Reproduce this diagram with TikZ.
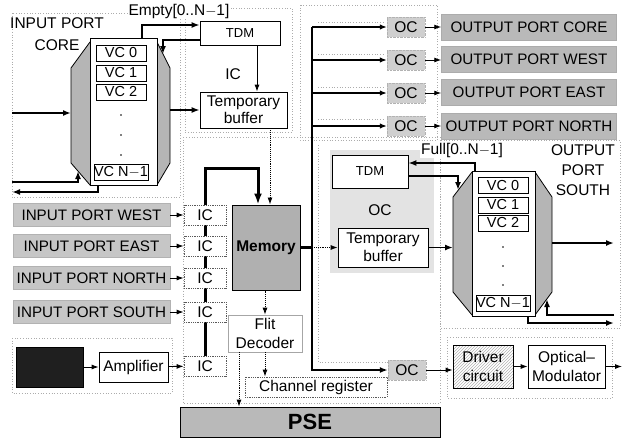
\documentclass[tikz,border=0pt]{standalone}
\usepackage{fontspec}
\setmainfont{Liberation Sans}
\usetikzlibrary{arrows.meta,backgrounds,patterns}
\begin{document}
\begin{tikzpicture}[x=1pt,y=-1pt,
  every node/.style={font=\fontsize{15.5}{18}\selectfont, inner sep=1pt, align=center},
  bx/.style={draw=black, line width=0.7pt, fill=white},
  dbx/.style={draw=black!65, densely dotted, line width=0.8pt, fill=white},
  inport/.style={fill=gray!45, draw=gray!60, line width=0.5pt, minimum width=157pt, minimum height=23pt, font=\fontsize{15.2}{17}\selectfont},
  outport/.style={fill=gray!55, draw=gray!65, line width=0.5pt, minimum width=175pt, minimum height=26pt, font=\fontsize{15.2}{17}\selectfont},
  ocb/.style={fill=gray!38, draw=gray!60, densely dotted, minimum width=38pt, minimum height=20pt},
  icb/.style={dbx, minimum width=42pt, minimum height=20pt},
  vcb/.style={bx, minimum width=50pt, minimum height=16pt, font=\fontsize{14.5}{15}\selectfont, inner sep=0pt},
  hexs/.style={fill=gray!58, draw=black, line width=0.8pt},
  arr/.style={-{Latex[length=7pt,width=5pt]}, line width=0.9pt},
  darr/.style={arr, densely dotted},
  barr/.style={-{Latex[length=7pt,width=5.5pt]}, line width=1.3pt},
  tarr/.style={-{Latex[length=8pt,width=6pt]}, line width=1.8pt},
  dotfr/.style={draw=gray!65, dotted, line width=0.7pt},
  lbl/.style={fill=white, inner sep=1pt},
]
\useasboundingbox (0,0) rectangle (623,437);

% ---------- dotted background frames ----------
\draw[dotfr] (12,13) rectangle (180,197);
\draw[dotfr] (185,8) rectangle (292,132);
\draw[dotfr] (300,5) rectangle (437,140);
\draw[dotfr] (183,137) rectangle (440,403);
\draw[dotfr] (440,140) rectangle (620,328);
\draw[dotfr] (447,337) rectangle (612,398);
\draw[dotfr] (12,338) rectangle (172,393);
\draw[dotfr] (318,22) -- (385,22);
\draw[dotfr] (318,54) -- (385,54);
\draw[dotfr] (318,87) -- (385,87);
\draw[dotfr] (318,119) -- (385,119);
\draw[dotfr] (318,145) -- (318,362) -- (388,362);

% ---------- OC shaded region (output south) ----------
\fill[gray!22] (330,150) rectangle (434,273);

% ---------- INPUT PORT CORE ----------
\node[font=\fontsize{15.5}{22}\selectfont] (incoreLbl) at (57,34) {INPUT PORT\\CORE};
\node[lbl] (emptyLbl) at (179,11) {Empty[0..N$-$1]};
\draw[hexs] (90,42) -- (157,42) -- (170,68) -- (170,163) -- (157,185) -- (90,185) -- (71,163) -- (71,68) -- cycle;
\node[bx, minimum width=67pt, minimum height=147pt] (core) at (123.5,111.5) {};
\node[vcb] (cvc0) at (121,53) {VC 0};
\node[vcb] (cvc1) at (121,73) {VC 1};
\node[vcb] (cvc2) at (121,92) {VC 2};
\node[vcb] (cvcn) at (121,172) {VC N$-$1};
\fill (121,115) circle (0.8) (121,135) circle (0.8) (121,155) circle (0.8);
\coordinate (srcCore) at (12,113);
\coordinate (coreIn) at (71,113);
\coordinate (coreOut) at (170,110);
\coordinate (coreTR) at (163,54);
\coordinate (coreBL) at (78,171);
\coordinate (retIn) at (12,182);
\coordinate (retOut) at (12,192);

\node[bx, minimum width=80pt, minimum height=24pt] (tdm1) at (240,33) {\fontsize{13}{15}\selectfont TDM};
\node[bx, minimum width=87pt, minimum height=36pt, font=\fontsize{15.5}{17}\selectfont] (tb1) at (243.5,110) {Temporary\\buffer};
\node (icLbl) at (233,74) {IC};

\draw[tarr] (srcCore) -- (coreIn);
\draw[tarr] (coreOut) -- (tb1.west);
\draw[tarr] (core.north -| 142,0) |- (tdm1.west |- 0,25);
\draw[tarr] (tdm1.west |- 0,40) -| (coreTR);
\draw[arr] (tdm1.south -| 257,0) -- (tb1.north -| 257,0);
\draw[tarr] (retIn) -| (coreBL);
\draw[tarr] (core.south -| 98,0) |- (retOut);

% ---------- INPUT PORTS + IC ----------
\node[inport] (pW) at (91.5,215) {INPUT PORT WEST};
\node[inport] (pE) at (91.5,246) {INPUT PORT EAST};
\node[inport] (pN) at (91.5,278) {INPUT PORT NORTH};
\node[inport] (pS) at (91.5,312) {INPUT PORT SOUTH};
\node[icb] (ic1) at (205,215) {IC};
\node[icb] (ic2) at (205,246) {IC};
\node[icb] (ic3) at (205,278) {IC};
\node[icb] (ic4) at (205,312) {IC};
\node[icb] (ic5) at (205,366) {IC};
\draw[arr] (pW) -- (ic1);
\draw[arr] (pE) -- (ic2);
\draw[arr] (pN) -- (ic3);
\draw[arr] (pS) -- (ic4);

\node[fill=black!88, draw=black, minimum width=67pt, minimum height=40pt] (pd) at (49.5,367) {};
\node[bx, minimum width=69pt, minimum height=30pt] (amp) at (133.5,367) {Amplifier};
\draw[arr] (pd) -- (amp);
\draw[arr] (amp) -- (ic5);

% ---------- MEMORY / DECODER / PSE ----------
\node[fill=gray!62, draw=black, line width=1pt, minimum width=68pt, minimum height=85pt, font=\fontsize{15.5}{17}\selectfont\bfseries] (mem) at (266,247.5) {Memory};
\node[draw=gray!70, line width=0.6pt, fill=white, minimum width=74pt, minimum height=37pt, font=\fontsize{15.5}{19}\selectfont] (flit) at (265,333.5) {Flit\\Decoder};
\node[dbx, minimum width=142pt, minimum height=20pt] (chreg) at (316,387) {Channel register};
\node[fill=gray!55, draw=black, line width=0.8pt, minimum width=260pt, minimum height=30pt, font=\fontsize{22}{24}\selectfont\bfseries] (pse) at (310,422) {PSE};

\begin{scope}[on background layer]
  \draw[line width=3pt] (ic5.north) -- (ic1.north);
\end{scope}
\draw[line width=3pt, -{Latex[length=11pt,width=8pt]}] (ic1.north) -- (205,168) -| (mem.north -| 258,0);
\draw[darr] (tb1.south -| 270,0) -- (mem.north -| 270,0);
\draw[darr] (mem.south -| 265,0) -- (flit.north -| 265,0);
\draw[darr] (flit.south -| 265,0) -- (chreg.north -| 265,0);
\draw[darr] (flit.south -| 239,0) -- (pse.north -| 239,0);

% ---------- OUTPUT SIDE ----------
\node[ocb] (oc1) at (406,27) {OC};
\node[ocb] (oc2) at (406,60) {OC};
\node[ocb] (oc3) at (406,93) {OC};
\node[ocb] (oc4) at (406,126) {OC};
\node[ocb] (oc5) at (407,370) {OC};
\node[outport] (opC) at (529,27) {OUTPUT PORT CORE};
\node[outport] (opW) at (529,59) {OUTPUT PORT WEST};
\node[outport] (opE) at (529,92) {OUTPUT PORT EAST};
\node[outport] (opN) at (529,126) {OUTPUT PORT NORTH};
\draw[arr] (oc1) -- (oc1 -| opC.west);
\draw[arr] (oc2) -- (oc2 -| opW.west);
\draw[arr] (oc3) -- (oc3 -| opE.west);
\draw[arr] (oc4) -- (oc4 -| opN.west);

\draw[line width=2.2pt, -{Latex[length=8pt,width=6pt]}] (oc1.west -| 312,0) |- (oc5.west);
\draw[barr] (oc1.west -| 312,0) -- (oc1.west);
\draw[barr] (oc2.west -| 312,0) -- (oc2.west);
\draw[barr] (oc3.west -| 312,0) -- (oc3.west);
\draw[barr] (oc4.west -| 312,0) -- (oc4.west);
\draw[line width=2.2pt] (mem.east) -- (mem.east -| 312,0);

% output south
\node[bx, minimum width=76pt, minimum height=33pt] (tdm2) at (370,171.5) {\fontsize{13}{15}\selectfont TDM};
\node (ocLbl) at (380,210) {OC};
\node[bx, minimum width=90pt, minimum height=39pt] (tb2) at (383,247.5) {Temporary\\buffer};
\draw[darr] (mem.east -| 312,0) -- (tb2.west);

\node[lbl] (fullLbl) at (462,150) {Full[0..N$-$1]};
\node[font=\fontsize{15.5}{20}\selectfont] (osLbl) at (583,170) {OUTPUT\\PORT\\SOUTH};
\draw[hexs] (472,172) -- (535,172) -- (552,197) -- (552,292) -- (535,315) -- (472,315) -- (453,292) -- (453,197) -- cycle;
\node[bx, minimum width=63pt, minimum height=145pt] (south) at (503.5,243.5) {};
\node[vcb] (svc0) at (503,185.5) {VC 0};
\node[vcb] (svc1) at (503,205) {VC 1};
\node[vcb] (svc2) at (503,223) {VC 2};
\node[vcb] (svcn) at (503,303) {VC N$-$1};
\fill (503,247) circle (0.8) (503,266) circle (0.8) (503,285) circle (0.8);
\coordinate (southIn) at (453,247.5);
\coordinate (southTL) at (458,190);
\coordinate (southOut) at (552,243);
\coordinate (southOutEnd) at (614,243);
\coordinate (southBR) at (547,299);
\coordinate (sRetIn) at (614,315);
\coordinate (sRetOut) at (614,323);

\draw[tarr] (south.north -| 475,0) |- (tdm2.east |- 0,163);
\draw[tarr] (tdm2.east |- 0,176) -| (southTL);
\draw[tarr] (tb2.east) -- (southIn);
\draw[tarr] (southOut) -- (southOutEnd);
\draw[tarr] (sRetIn) -| (southBR);
\draw[tarr] (south.south -| 528,0) |- (sRetOut);

% driver / modulator
\node[draw=black, line width=0.7pt, pattern=north east lines, pattern color=gray!60, minimum width=60pt, minimum height=43pt, font=\fontsize{15.5}{19}\selectfont] (drv) at (483,366.5) {Driver\\circuit};
\node[bx, minimum width=77pt, minimum height=43pt, font=\fontsize{15.5}{19}\selectfont] (mod) at (566.5,366.5) {Optical--\\Modulator};
\coordinate (modOut) at (622,366.5);
\draw[arr] (oc5.east) -- (oc5.east -| drv.west);
\draw[arr] (drv) -- (mod);
\draw[arr] (mod) -- (modOut);
\end{tikzpicture}
\end{document}
